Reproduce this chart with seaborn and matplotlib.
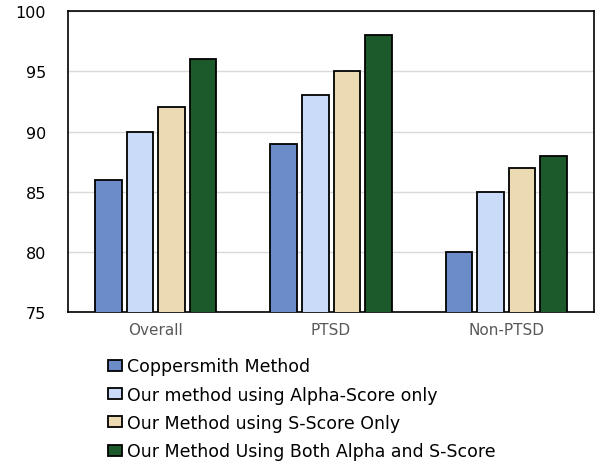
import pandas as pd
import seaborn as sns
import matplotlib.pyplot as plt

# Data
groups = ['Overall', 'PTSD', 'Non-PTSD']
methods = ['Coppersmith Method',
           'Our method using Alpha-Score only',
           'Our Method using S-Score Only',
           'Our Method Using Both Alpha and S-Score']
coppersmith = [86, 89, 80]
alpha_only = [90, 93, 85]
sscore_only = [92, 95, 87]
both = [96, 98, 88]

colors = ['#6c8bc9', '#c9dbf8', '#ecdab2', '#1c5a2c']

# long-form table for seaborn
rows = []
for m, vals in zip(methods, [coppersmith, alpha_only, sscore_only, both]):
    for g, v in zip(groups, vals):
        rows.append({'group': g, 'method': m, 'score': v})
df = pd.DataFrame(rows)

sns.set_style('white')
plt.rcParams['font.family'] = ['DejaVu Sans']
plt.rcParams['text.color'] = 'black'

fig = plt.figure(figsize=(5.97, 4.64), dpi=100)
ax = fig.add_axes([0.114, 0.325, 0.881, 0.649])

sns.barplot(data=df, x='group', y='score', hue='method', palette=colors,
            saturation=1, width=0.72, gap=0.16, edgecolor='black',
            linewidth=1.3, errorbar=None, ax=ax, zorder=3)

ax.set_ylim(75, 100)
ax.set_yticks([75, 80, 85, 90, 95, 100])
ax.yaxis.grid(True, color='#d9d9d9', linewidth=1, zorder=0)
ax.set_axisbelow(True)
ax.set_xlabel('')
ax.set_ylabel('')
ax.tick_params(axis='y', length=0, labelsize=11.5, pad=16, labelcolor='black')
ax.tick_params(axis='x', length=0, labelsize=11, pad=7, labelcolor='#595959')
for s in ax.spines.values():
    s.set_color('black')
    s.set_linewidth(1.2)

handles, labels = ax.get_legend_handles_labels()
ax.legend_.remove()
leg = fig.legend(handles, labels, loc='upper left',
                 bbox_to_anchor=(0.181, 0.228), frameon=False, fontsize=12.5,
                 handlelength=0.8, handleheight=0.6, handletextpad=0.3,
                 labelspacing=0.6, borderaxespad=0, borderpad=0)
for t in leg.get_texts():
    t.set_color('black')

fig.savefig('out.png', dpi=100)
